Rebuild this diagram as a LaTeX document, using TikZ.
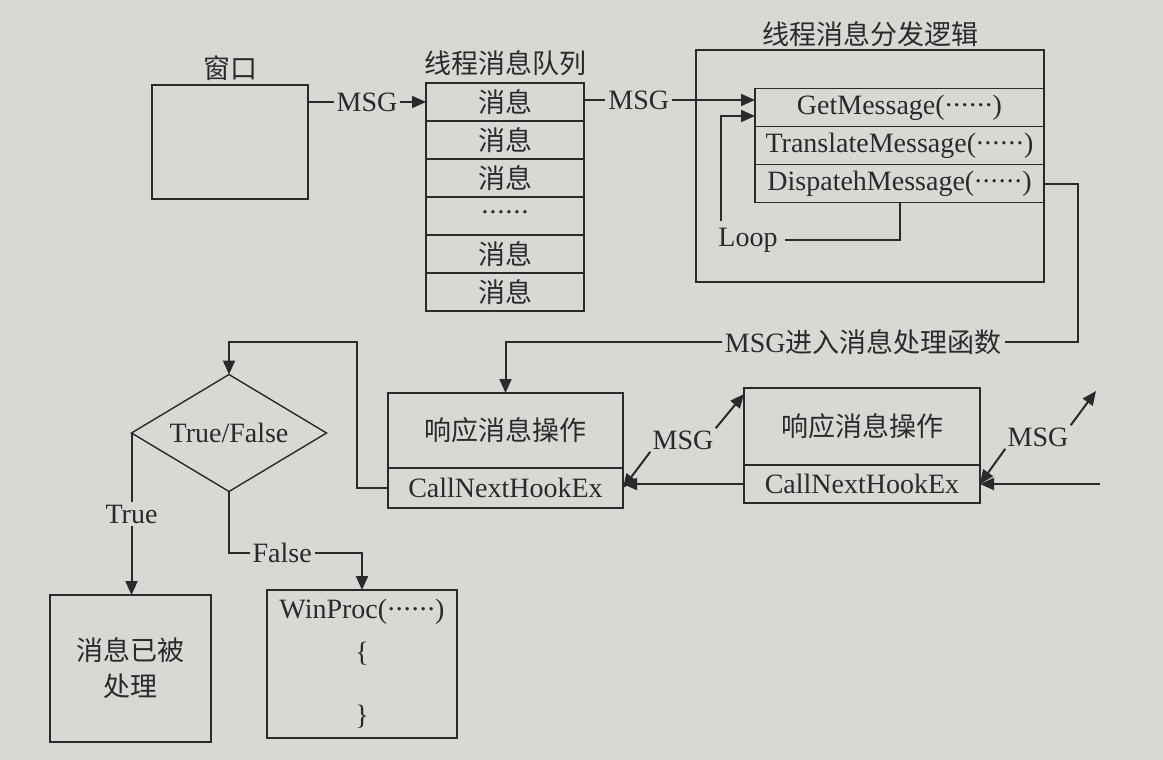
\documentclass[tikz,border=0pt]{standalone}
\usepackage{fontspec}
\setmainfont{Liberation Serif}
\newfontfamily\cjk{Noto Sans CJK SC}
\usetikzlibrary{positioning,arrows.meta,shapes.geometric}
\definecolor{paper}{RGB}{216,216,212}
\definecolor{ink}{RGB}{42,42,42}
\newcommand\zh[1]{{\cjk\fontsize{13.5}{18}\selectfont #1}}
\newcommand\onedot{\hbox to 4pt{\hss·\hss}}
\newcommand\sixdots{\onedot\onedot\onedot\onedot\onedot\onedot}
\tikzset{
>={Triangle[length=7pt,width=6pt]},
every node/.style={font=\fontsize{14}{17}\selectfont, text=ink},
box/.style={draw=ink, line width=0.7pt, inner sep=0pt, outer sep=0pt},
row/.style={box, minimum width=79pt, minimum height=19pt},
call/.style={box, minimum width=144.5pt, minimum height=19pt},
wire/.style={draw=ink, line width=1pt},
tag/.style={fill=paper, inner sep=1.5pt},
zhtext/.style={font=\cjk\fontsize{13.5}{18}\selectfont},
}

\begin{document}
\begin{tikzpicture}[x=0.5pt,y=-0.5pt]
        \fill[paper] (0,0) rectangle (1163,760);

        % window and message queue
        \node[box, minimum width=78pt, minimum height=57pt] (win) at (230,142) {};
        \node[above=-1.5pt of win] (wintitle) {\zh{窗口}};
        \node[row] (q1) at (505,102) {\zh{消息}};
        \node[row, below=0pt of q1] (q2) {\zh{消息}};
        \node[row, below=0pt of q2] (q3) {\zh{消息}};
        \node[row, below=0pt of q3] (q4) {\sixdots};
        \node[row, below=0pt of q4] (q5) {\zh{消息}};
        \node[row, below=0pt of q5] (q6) {\zh{消息}};
        \node[above=0pt of q1] (qtitle) {\zh{线程消息队列}};

        % dispatch logic
        \node[box, minimum width=174pt, minimum height=116pt] (logic) at (870,166) {};
        \node[above=-2pt of logic] (ltitle) {\zh{线程消息分发逻辑}};
        \node[call] (get) at (899.5,107.5) {GetMessage(\sixdots)};
        \node[call, below=0pt of get] (trans) {TranslateMessage(\sixdots)};
        \node[call, below=0pt of trans] (disp) {DispatehMessage(\sixdots)};
        \node (loop) at (748,240) {Loop};
        \coordinate (in1) at ([yshift=3.75pt]get.west);
        \coordinate (in2) at ([yshift=-4.25pt]get.west);

        \draw[wire,->] (win.east |- q1) -- node[tag]{MSG} (q1.west);
        \draw[wire,->] (q1.east |- in1) -- node[tag, pos=0.32]{MSG} (in1);
        \draw[wire] (loop.east) -| (disp.south);
        \draw[wire,->] ([xshift=5pt]loop.north west) |- (in2);

        % hook chain
        \node[box, minimum width=117.5pt, minimum height=37.5pt] (hook1) at (505.5,430.5) {\zh{响应消息操作}};
        \node[box, minimum width=117.5pt, minimum height=20pt, below=0pt of hook1] (next1) {CallNextHookEx};
        \node[box, minimum width=118pt, minimum height=38.5pt] (hook2) at (862,426.5) {\zh{响应消息操作}};
        \node[box, minimum width=118pt, minimum height=19pt, below=0pt of hook2] (next2) {CallNextHookEx};
        \node[inner sep=1pt] (msg1) at (683,440) {MSG};
        \node[inner sep=1pt] (msg2) at (1038,437) {MSG};
        \coordinate (up2) at (1096,391);
        \coordinate (feed) at (1100,484);
        \coordinate (bend) at (1078,342);

        \draw[wire,->] (disp.east) -| (bend) -- node[tag, pos=0.375]{MSG\zh{进入消息处理函数}} (bend -| hook1.north) -- (hook1.north);
        \draw[wire,->] (next2.west) -- (next2.west -| next1.east);
        \draw[wire,->] (msg1.north east) -- ([yshift=-3pt]hook2.north west);
        \draw[wire,->] (msg1.south west) -- (next1.east);
        \draw[wire,->] (msg2.north east) -- (up2);
        \draw[wire,->] (msg2.south west) -- (next2.east);
        \draw[wire,->] (feed) -- (next2.east);

        % decision
        \node[box, diamond, aspect=2, minimum width=97.5pt, minimum height=58.5pt] (test) at (229,433) {True/False};
        \node[box, zhtext, minimum width=80.5pt, minimum height=73.5pt, align=center] (done) at (130.5,668.5) {消息已被\\处理};
        \node[box, minimum width=95pt, minimum height=74pt, align=center] (proc) at (362,664) {WinProc(\sixdots)\\[4.5pt]\{\\[14.5pt]\}};
        \coordinate (back) at (357,342);

        \draw[wire,->] (next1.west) -| (back) -| (test.north);
        \draw[wire,->] (test.west) -- node[tag]{True} (test.west |- done.north);
        \draw[wire,->] (test.south) |- node[tag, pos=0.7]{False} ([yshift=18.5pt]proc.north) -- (proc.north);
\end{tikzpicture}
\end{document}
